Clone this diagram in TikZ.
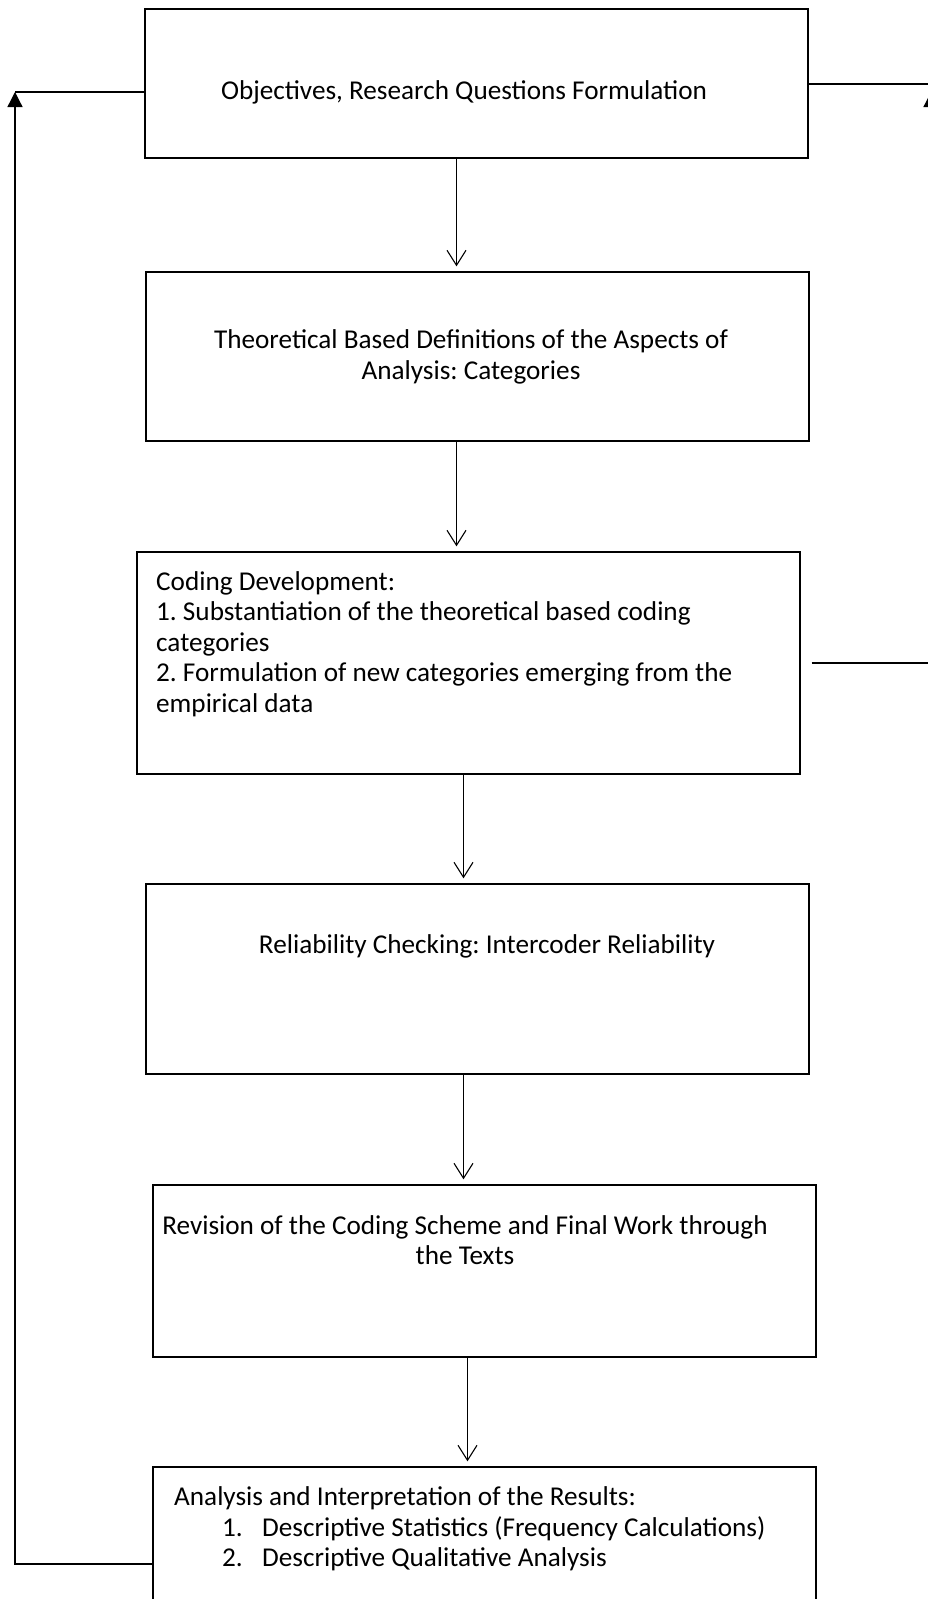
\documentclass[tikz,border=0pt]{standalone}
\usepackage{fontspec}
\setmainfont{Carlito}
\usetikzlibrary{arrows.meta}
\frenchspacing

\begin{document}
\begin{tikzpicture}[x=1pt,y=-1pt]
			\useasboundingbox (0,0) rectangle (927,1599);
			\begin{scope}[every node/.style={draw,line width=1.4pt,minimum width=663pt,inner sep=0pt}]
				\node[minimum height=149pt] (obj) at (476.5,83.5) {};
				\node[minimum height=169pt] (theo) at (477.5,356.5) {};
				\node[minimum height=222pt] (code) at (468.5,663) {};
				\node[minimum height=190pt] (rel) at (477.5,979) {};
				\node[minimum height=172pt] (rev) at (484.5,1271) {};
				\node[minimum height=180pt] (ana) at (484.5,1557) {};
			\end{scope}
			
			\begin{scope}[every node/.style={font=\fontsize{27.2}{30.5}\selectfont,inner sep=0pt}]
				\node (objT) at (464,92) {Objectives, Research Questions Formulation};
				\node[align=center] (theoT) at (471,357) {Theoretical Based Definitions of the Aspects of\\Analysis: Categories};
				\node[anchor=west,align=left] (codeT) at (156,644) {Coding Development:\\1. Substantiation of the theoretical based coding\\categories\\2. Formulation of new categories emerging from the\\empirical data};
				\node (relT) at (487,946) {Reliability Checking: Intercoder Reliability};
				\node[align=center] (revT) at (465,1240) {Revision of the Coding Scheme and Final Work through\\the Texts};
				\node[anchor=west,align=left] (anaT) at (174,1529) {Analysis and Interpretation of the Results:\\\hspace*{48pt}\makebox[40pt][l]{1.}Descriptive Statistics (Frequency Calculations)\\\hspace*{48pt}\makebox[40pt][l]{2.}Descriptive Qualitative Analysis};
			\end{scope}
			
			\begin{scope}[every edge/.style={draw=black,line width=1.1pt,shorten >=5pt}]
				\path [-{Straight Barb[length=15pt,width=19pt]}] ([xshift=-20pt]obj.south) edge ([xshift=-21pt]theo.north);
				\path [-{Straight Barb[length=15pt,width=19pt]}] ([xshift=-21pt]theo.south) edge ([xshift=-12pt]code.north);
				\path [-{Straight Barb[length=15pt,width=19pt]}] ([xshift=-5pt]code.south) edge ([xshift=-14pt]rel.north);
				\path [-{Straight Barb[length=15pt,width=19pt]}] ([xshift=-14pt]rel.south) edge ([xshift=-21pt]rev.north);
				\path [-{Straight Barb[length=15pt,width=19pt]}] ([xshift=-17pt]rev.south) edge ([xshift=-17pt]ana.north);
			\end{scope}
			
			% loop back lines
			\coordinate (lb) at (15,1564);
			\coordinate (lt) at (15,92);
			\coordinate (rb) at (931,663);
			\coordinate (rt) at (931,92);
			\coordinate (rr) at (935,84);
			\draw [line width=1.3pt,-{Triangle[length=15pt,width=15pt]}] (ana.west |- lb) -- (lb) -- (lt);
			\draw [line width=1.3pt] (obj.west |- lt) -- (lt);
			\draw [line width=1.3pt,shorten <=11pt,-{Triangle[length=15pt,width=15pt]}] (code.east |- rb) -- (rb) -- (rt);
			\draw [line width=1.3pt] (obj.east |- rr) -- (rr);
		\end{tikzpicture}
\end{document}
